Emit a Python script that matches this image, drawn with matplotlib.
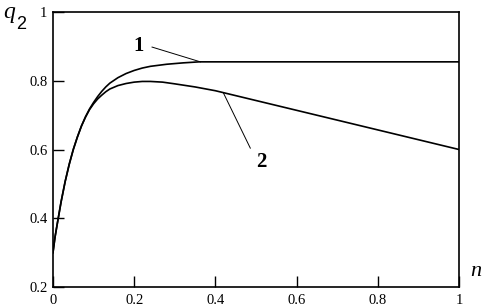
import matplotlib.pyplot as plt

# curve 1: saturates and stays flat
n1 = [0, 0.005, 0.01, 0.02, 0.03, 0.04, 0.05, 0.06, 0.07, 0.08, 0.09, 0.1, 0.11,
      0.12, 0.13, 0.14, 0.16, 0.18, 0.2, 0.22, 0.24, 0.28, 0.32, 0.36, 1.0]
q1 = [0.30, 0.345, 0.38, 0.448, 0.507, 0.557, 0.60, 0.636, 0.668, 0.695, 0.718,
      0.737, 0.754, 0.769, 0.782, 0.793, 0.809, 0.821, 0.83, 0.837, 0.842, 0.848,
      0.852, 0.855, 0.855]

# curve 2: peaks near 0.8 then falls linearly
n2 = [0, 0.005, 0.01, 0.02, 0.03, 0.04, 0.05, 0.06, 0.07, 0.08, 0.09, 0.1, 0.11,
      0.12, 0.13, 0.14, 0.16, 0.18, 0.2, 0.22, 0.24, 0.27, 0.3, 0.35, 0.4, 1.0]
q2 = [0.30, 0.345, 0.38, 0.448, 0.507, 0.557, 0.60, 0.636, 0.668, 0.694, 0.716,
      0.733, 0.747, 0.758, 0.768, 0.776, 0.786, 0.792, 0.796, 0.798, 0.798, 0.796,
      0.791, 0.782, 0.771, 0.60]

xticks = [0, 0.2, 0.4, 0.6, 0.8, 1]
yticks = [0.2, 0.4, 0.6, 0.8, 1]
tick_labels_x = ["0", "0.2", "0.4", "0.6", "0.8", "1"]
tick_labels_y = ["0.2", "0.4", "0.6", "0.8", "1"]

plt.rcParams["font.family"] = ["Liberation Serif", "DejaVu Serif"]

fig = plt.figure(figsize=(4.87, 3.08), dpi=100)
ax = fig.add_axes([0.1088, 0.0682, 0.8337, 0.8928])

ax.plot(n1, q1, color="black", lw=1.2)
ax.plot(n2, q2, color="black", lw=1.2)

ax.set_xlim(0, 1)
ax.set_ylim(0.2, 1)
ax.set_xticks(xticks)
ax.set_xticklabels(tick_labels_x)
ax.set_yticks(yticks)
ax.set_yticklabels(tick_labels_y)
ax.tick_params(axis="both", direction="in", length=8, width=1.0,
               labelsize=10.5, colors="black", top=False, right=False)
ax.tick_params(axis="x", pad=5)
ax.tick_params(axis="y", pad=4)
for s in ax.spines.values():
    s.set_linewidth(1.2)

# curve labels with leader lines
ax.plot([0.244, 0.363], [0.898, 0.855], color="black", lw=0.7)
ax.text(0.212, 0.901, "1", fontsize=15, fontweight="bold", ha="center", va="center")
ax.plot([0.42, 0.486], [0.764, 0.604], color="black", lw=0.7)
ax.text(0.514, 0.564, "2", fontsize=15, fontweight="bold", ha="center", va="center")

# axis names
fig.text(0.006, 0.96, "q", fontsize=17, fontstyle="italic", ha="left", va="center")
fig.text(0.034, 0.92, "2", fontsize=13, family="Liberation Sans", ha="left", va="center")
fig.text(0.966, 0.12, "n", fontsize=16, fontstyle="italic", ha="left", va="center")

fig.savefig("out.png", dpi=100)
